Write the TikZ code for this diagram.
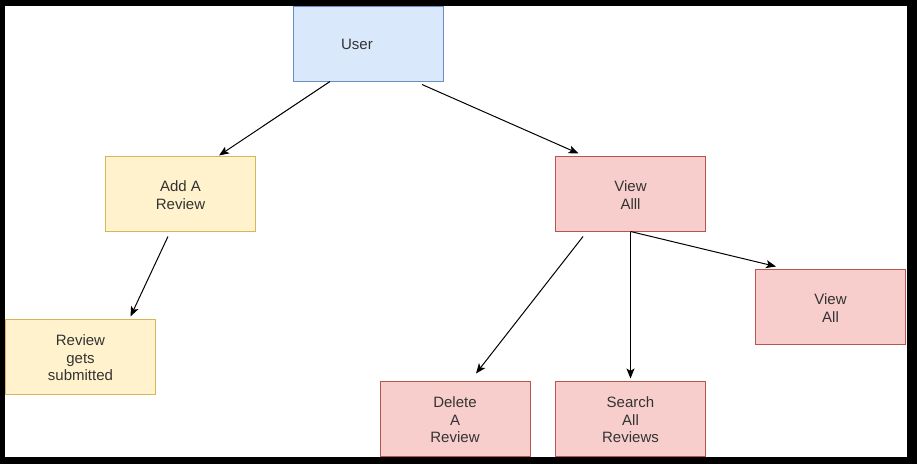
\documentclass[tikz,border=0pt]{standalone}
\usepackage{fontspec}
\setmainfont{Liberation Sans}
\usepackage{xcolor}
\usepackage{tikz}
\usetikzlibrary{arrows.meta}

\definecolor{userfill}{HTML}{DAE8FC}
\definecolor{userline}{HTML}{6C8EBF}
\definecolor{addfill}{HTML}{FFF2CC}
\definecolor{addline}{HTML}{D6B656}
\definecolor{viewfill}{HTML}{F8CECC}
\definecolor{viewline}{HTML}{B85450}
\definecolor{textgrey}{HTML}{333333}

\tikzset{
    box/.style={rectangle,
                draw,
                line width = 0.75pt,
                inner sep = 0pt,
                minimum width = 112.5pt,
                minimum height = 56.25pt},
    lbl/.style={align = center,
                text = textgrey,
                yshift = -1pt,
                font = \fontsize{11.25}{13.3}\selectfont}
}

\begin{document}
\begin{tikzpicture}[->,>={Stealth[length=7.5pt,width=6pt,inset=1.8pt]},x=0.75pt,y=-0.75pt]

    % frame
    \fill[black] (0,0) rectangle (917,464);
    \fill[white] (5,6) rectangle (907,457);

    \node[box,
          draw = userline,
          fill = userfill
          ] (user) at (368,43.5) {};
    \node[lbl] (userlbl) at ([xshift=-8.25pt]user.center) {User};

    \node[box,
          draw = addline,
          fill = addfill
          ] (add) at (180.5,193.5) {};
    \node[lbl] (addlbl) at (add.center) {Add A\\Review};

    \node[box,
          draw = addline,
          fill = addfill
          ] (sub) at (80.5,356.5) {};
    \node[lbl] (sublbl) at (sub.center) {Review\\gets\\submitted};

    \node[box,
          draw = viewline,
          fill = viewfill
          ] (viewalll) at (630.5,193.5) {};
    \node[lbl] (viewallllbl) at (viewalll.center) {View\\Alll};

    \node[box,
          draw = viewline,
          fill = viewfill
          ] (viewall) at (830.5,306.5) {};
    \node[lbl] (viewalllbl) at (viewall.center) {View\\All};

    \node[box,
          draw = viewline,
          fill = viewfill
          ] (delete) at (455,418.5) {};
    \node[lbl] (deletelbl) at (delete.center) {Delete\\A\\Review};

    \node[box,
          draw = viewline,
          fill = viewfill
          ] (search) at (630.5,418.5) {};
    \node[lbl] (searchlbl) at (search.center) {Search\\All\\Reviews};


    \path[line width=0.75pt, every edge/.style={draw, line width=0.75pt}]
    % user paths
    ([xshift=-28.5pt]user.south) edge [] ([xshift=28.9pt]add.north)
    ([xshift=40.5pt,yshift=-2.25pt]user.south) edge [] ([xshift=-39pt,yshift=1.5pt]viewalll.north)
    % review path
    ([xshift=-9.4pt,yshift=-3.75pt]add.south) edge [] ([xshift=37.5pt,yshift=1.5pt]sub.north)
    % view paths
    ([xshift=-35.6pt,yshift=-3.75pt]viewalll.south) edge [] ([xshift=15.75pt,yshift=5.25pt]delete.north)
    (viewalll.south) edge [] ([yshift=1.5pt]search.north)
    (viewalll.south) edge [] ([xshift=-40.9pt,yshift=1.5pt]viewall.north) ;


\end{tikzpicture}
\end{document}
